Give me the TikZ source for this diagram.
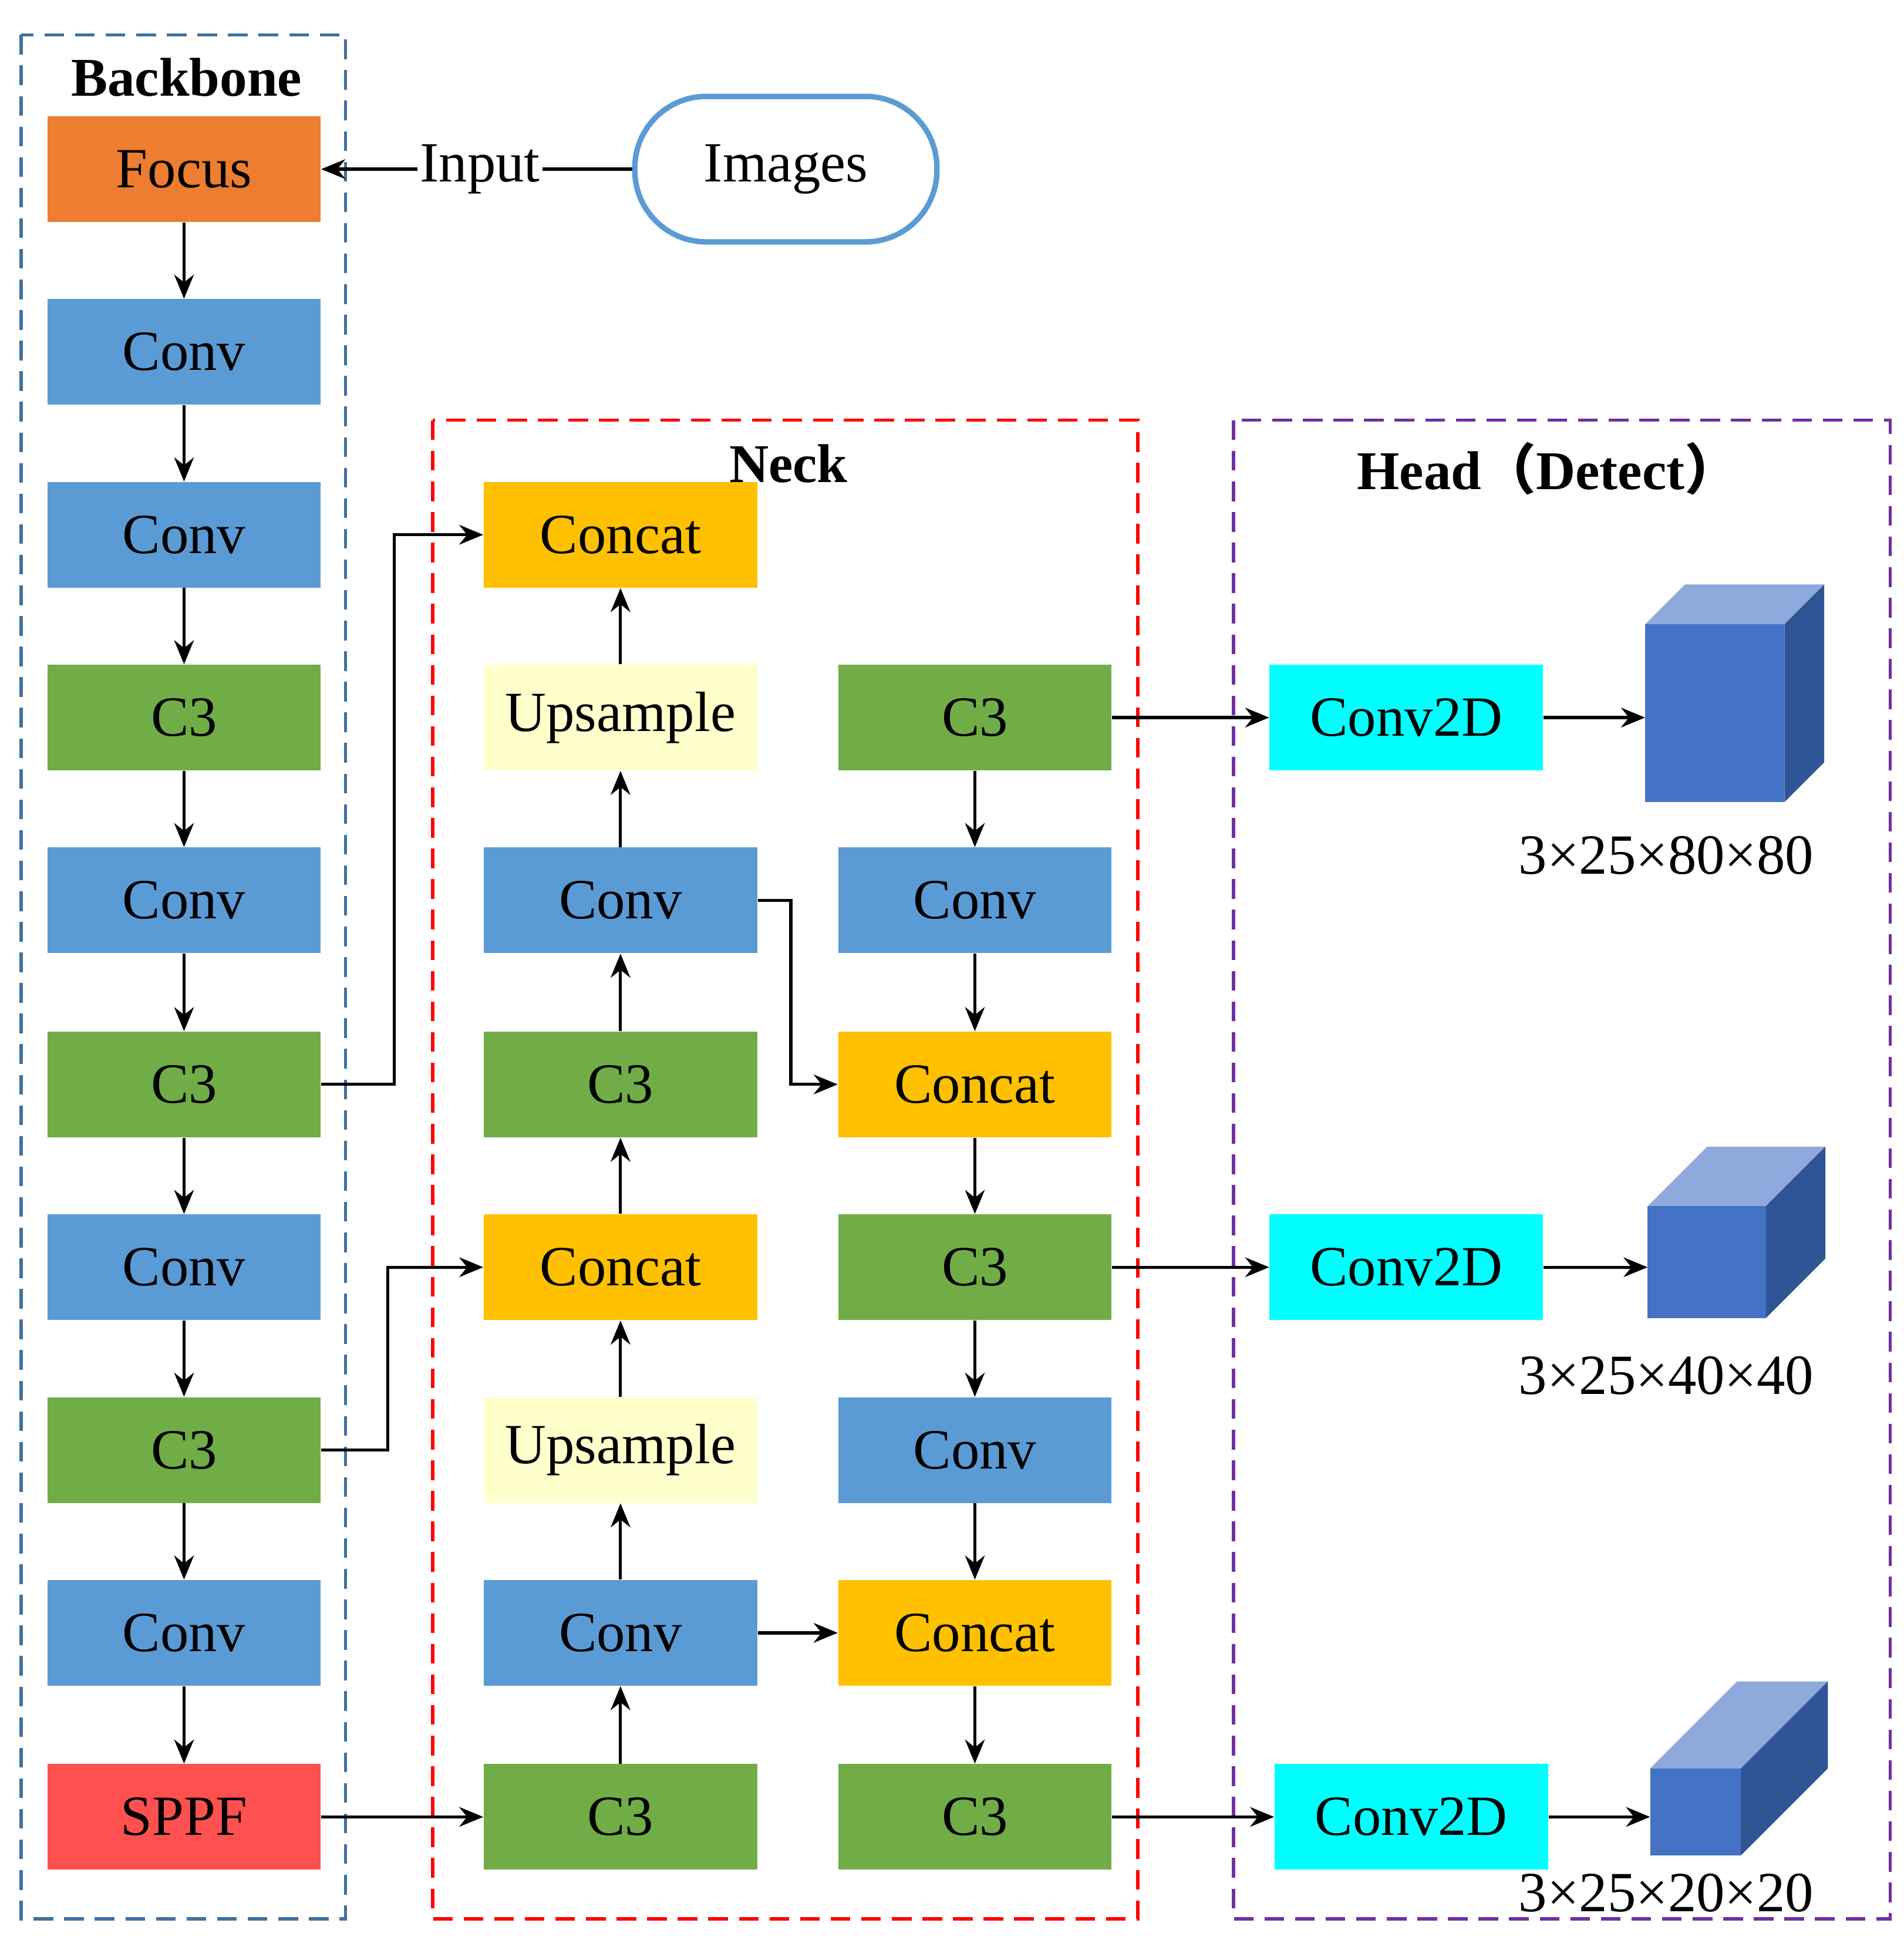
\documentclass[tikz,border=0pt]{standalone}
\usepackage{fontspec}
\setmainfont{Liberation Serif}
\newfontfamily\cjk{Noto Sans CJK SC}
\usetikzlibrary{arrows.meta}
\definecolor{cfocus}{HTML}{ED7D31}
\definecolor{cconv}{HTML}{5B9BD5}
\definecolor{cthree}{HTML}{70AD47}
\definecolor{ccat}{HTML}{FFC000}
\definecolor{cup}{HTML}{FFFFCC}
\definecolor{csppf}{HTML}{FF5050}
\definecolor{cdet}{HTML}{00FFFF}
\definecolor{cbb}{HTML}{41719C}
\definecolor{chead}{HTML}{7030A0}
\definecolor{cubetop}{HTML}{8EA9DB}
\definecolor{cubefront}{HTML}{4472C4}
\definecolor{cubeside}{HTML}{2F5597}
\tikzset{
  blk/.style={minimum width=4.4cm,minimum height=1.7cm,inner sep=0pt,font=\fontsize{26}{30}\selectfont},
  conv/.style={blk,fill=cconv},
  cthr/.style={blk,fill=cthree},
  ccat/.style={blk,fill=ccat},
  cup/.style={blk,fill=cup},
  det/.style={blk,fill=cdet},
  arr/.style={-{Stealth[length=11pt,width=9pt]},line width=1.4pt},
  ttl/.style={font=\fontsize{25}{29}\selectfont\bfseries},
  dbox/.style={line width=1.4pt,dash pattern=on 9pt off 5pt},
}
\begin{document}
\begin{tikzpicture}[x=0.02cm,y=-0.02cm]
  \useasboundingbox (0,0) rectangle (1531,1560);

% frames
  \draw[dbox,cbb] (17,28) rectangle (278,1543);
  \draw[dbox,red] (348,338) rectangle (915,1543);
  \draw[dbox,chead] (992,338) rectangle (1520,1543);
  \node[ttl] (tbb) at (150,62) {Backbone};
  \node[ttl] (tneck) at (634,373) {Neck};
  \node[ttl] (thead) at (1245,377) {Head{\cjk\bfseries （}Detect{\cjk\bfseries ）}};

% backbone
  \node[blk,fill=cfocus] (b0) at (148,136) {Focus};
  \node[conv] (b1) at (148,283) {Conv};
  \node[conv] (b2) at (148,430) {Conv};
  \node[cthr] (b3) at (148,577) {C3};
  \node[conv] (b4) at (148,724) {Conv};
  \node[cthr] (b5) at (148,872) {C3};
  \node[conv] (b6) at (148,1019) {Conv};
  \node[cthr] (b7) at (148,1166) {C3};
  \node[conv] (b8) at (148,1313) {Conv};
  \node[blk,fill=csppf] (b9) at (148,1461) {SPPF};
  \foreach \i/\j in {0/1,1/2,2/3,3/4,4/5,5/6,6/7,7/8,8/9}
    \draw[arr] (b\i) -- (b\j);

% input
  \node[draw=cconv,line width=2.5pt,rounded corners=1.15cm,minimum width=4.86cm,minimum height=2.34cm,font=\fontsize{26}{30}\selectfont] (img) at (632,136) {Images};
  \node[font=\fontsize{26}{30}\selectfont,inner sep=1pt] (inp) at (386,136) {Input};
  \draw[line width=1.4pt] (img) -- (inp);
  \draw[arr] (inp) -- (b0);

% neck, upward column
  \node[ccat] (n1) at (499,430) {Concat};
  \node[cup]  (n2) at (499,577) {Upsample};
  \node[conv] (n3) at (499,724) {Conv};
  \node[cthr] (n4) at (499,872) {C3};
  \node[ccat] (n5) at (499,1019) {Concat};
  \node[cup]  (n6) at (499,1166) {Upsample};
  \node[conv] (n7) at (499,1313) {Conv};
  \node[cthr] (n8) at (499,1461) {C3};
  \foreach \i/\j in {8/7,7/6,6/5,5/4,4/3,3/2,2/1}
    \draw[arr] (n\i) -- (n\j);

% neck, downward column
  \node[cthr] (m1) at (784,577) {C3};
  \node[conv] (m2) at (784,724) {Conv};
  \node[ccat] (m3) at (784,872) {Concat};
  \node[cthr] (m4) at (784,1019) {C3};
  \node[conv] (m5) at (784,1166) {Conv};
  \node[ccat] (m6) at (784,1313) {Concat};
  \node[cthr] (m7) at (784,1461) {C3};
  \foreach \i/\j in {1/2,2/3,3/4,4/5,5/6,6/7}
    \draw[arr] (m\i) -- (m\j);

% cross links
  \draw[arr] (b5.east) -- (317,872) |- (n1.west);
  \draw[arr] (b7.east) -- (312,1166) |- (n5.west);
  \draw[arr] (b9) -- (n8);
  \draw[arr] (n7) -- (m6);
  \draw[arr] (n3.east) -- (636,724) |- (m3.west);

% head
  \node[det] (h1) at (1131,577) {Conv2D};
  \node[det] (h2) at (1131,1019) {Conv2D};
  \node[det] (h3) at (1135,1461) {Conv2D};
  \draw[arr] (m1) -- (h1);
  \draw[arr] (m4) -- (h2);
  \draw[arr] (m7) -- (h3);

% output cubes
  \foreach \n/\xa/\xb/\ya/\yb/\d/\lab/\ly in {
      1/1323/1435/502/645/32/80/688,
      2/1325/1420/970/1060/48/40/1106,
      3/1327/1400/1422/1492/70/20/1522}{
    \coordinate (q\n) at (\xa,{(\ya+\yb)/2});
    \fill[cubetop] (\xa,\ya) -- ++(\d,-\d) -- ++(\xb-\xa,0) -- (\xb,\ya) -- cycle;
    \fill[cubeside] (\xb,\ya) -- ++(\d,-\d) -- ++(0,\yb-\ya) -- (\xb,\yb) -- cycle;
    \fill[cubefront] (\xa,\ya) rectangle (\xb,\yb);
    \node[font=\fontsize{26}{30}\selectfont] (o\n) at (1340,\ly) {3×25×\lab×\lab};
  }
  \draw[arr] (h1.east) -- (q1 |- h1.east);
  \draw[arr] (h2.east) -- (q2 |- h2.east);
  \draw[arr] (h3.east) -- (q3 |- h3.east);
\end{tikzpicture}
\end{document}
